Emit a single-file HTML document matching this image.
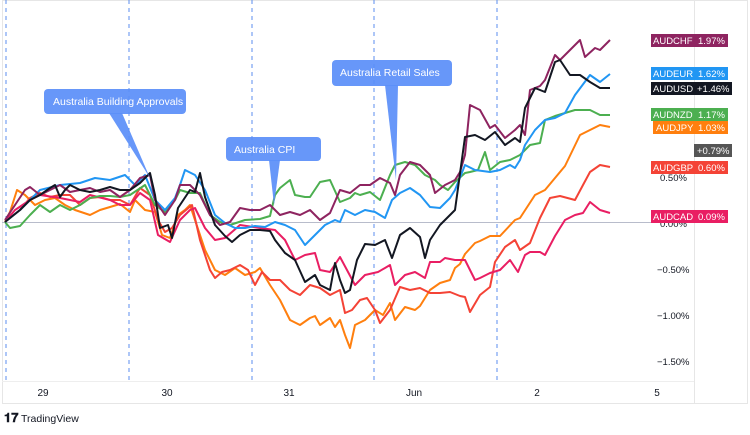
<!DOCTYPE html>
<html><head><meta charset="utf-8"><style>
body{margin:0;background:#fff;width:750px;height:430px;overflow:hidden;font-family:"Liberation Sans",sans-serif}
</style></head><body>
<svg width="750" height="430" xmlns="http://www.w3.org/2000/svg" font-family="Liberation Sans, sans-serif">
<rect x="0" y="0" width="750" height="430" fill="#fff"/>
<rect x="2.5" y="0.5" width="745" height="403" fill="none" stroke="#e6e6e6"/>
<line x1="694.5" y1="0" x2="694.5" y2="404" stroke="#e6e6e6"/>
<line x1="2" y1="381.5" x2="694" y2="381.5" stroke="#eeeeee"/>
<line x1="2" y1="222.5" x2="694" y2="222.5" stroke="#b8bccb"/>
<g stroke="#5b8def" stroke-dasharray="4,4" stroke-width="1">
<line x1="6" y1="0" x2="6" y2="381"/><line x1="129" y1="0" x2="129" y2="381"/><line x1="252" y1="0" x2="252" y2="381"/><line x1="374" y1="0" x2="374" y2="381"/><line x1="497" y1="0" x2="497" y2="381"/>
</g>
<g fill="none" stroke-width="2" stroke-linejoin="round">
<polyline stroke="#ff7f0e" points="5,222 10,212 17,190 25,195 35,205 45,200 55,198 65,205 75,210 90,215 100,210 110,207 120,204 130,212 135,200 145,210 155,212 162,235 170,238 178,215 185,210 190,205 195,220 205,250 215,270 225,275 235,268 245,275 255,272 260,268 270,285 280,300 290,320 300,325 310,318 315,316 320,325 330,318 335,327 340,320 345,335 350,348 355,325 365,320 375,310 383,315 390,303 395,320 405,307 415,310 420,306 430,290 440,283 450,280 455,268 460,264 465,254 475,243 480,241 490,236 500,236 515,220 520,218 535,195 545,190 555,178 565,166 580,135 590,130 600,125 610,127"/>
<polyline stroke="#f44336" points="5,222 20,210 30,198 40,193 50,197 60,195 70,195 80,205 90,198 100,197 110,200 120,200 130,205 140,188 150,195 158,220 165,232 172,228 180,215 192,205 200,240 210,270 215,278 222,272 230,270 240,265 248,270 255,285 262,272 270,280 280,280 290,290 300,295 310,285 320,288 330,295 340,290 345,313 352,310 360,300 367,298 375,310 380,323 390,310 400,287 410,290 420,288 430,293 440,293 450,292 460,296 465,297 470,312 480,295 490,287 495,262 505,247 515,240 520,250 530,243 540,218 550,198 560,196 575,200 583,185 590,172 600,165 610,167"/>
<polyline stroke="#e91e63" points="5,222 15,210 30,200 40,195 60,198 70,200 80,202 90,195 110,200 120,205 130,205 140,193 150,200 158,235 170,242 180,220 190,210 195,208 205,228 215,240 225,238 240,225 260,228 275,230 285,240 295,260 305,255 315,253 320,270 330,272 340,257 355,285 365,275 378,272 385,268 390,265 395,285 405,275 415,272 425,278 430,262 440,262 445,258 455,260 465,260 475,280 480,278 490,273 500,270 510,260 518,272 525,255 530,252 540,252 545,255 555,236 565,220 575,215 583,213 590,202 600,210 610,213"/>
<polyline stroke="#4caf50" points="5,222 10,228 20,226 30,215 40,205 50,212 60,205 70,210 80,205 90,198 100,196 110,196 120,197 130,195 145,185 155,205 165,212 175,200 180,190 190,193 200,193 210,215 220,222 230,225 245,220 260,219 270,216 275,195 280,188 290,180 295,195 305,197 310,197 320,182 330,180 340,202 350,198 355,193 360,195 370,192 380,200 390,175 395,165 405,162 415,165 425,175 435,180 440,185 448,190 455,182 465,173 470,172 478,170 485,152 490,170 500,162 510,160 520,155 530,145 540,143 545,120 555,116 575,110 590,110 600,115 610,115"/>
<polyline stroke="#2196f3" points="5,222 20,210 40,190 60,185 80,183 95,178 110,180 125,175 135,185 145,175 155,200 165,210 175,198 180,185 185,170 195,175 205,190 215,215 225,223 235,228 245,228 255,226 265,227 275,222 285,225 295,230 305,245 315,235 325,225 335,220 340,222 345,210 355,215 365,210 375,212 385,218 392,200 400,193 410,188 420,195 430,207 440,208 450,198 455,190 465,165 475,170 490,172 500,170 510,165 515,168 520,160 525,145 535,130 545,120 555,118 565,113 575,95 590,75 600,82 610,74"/>
<polyline stroke="#8e2460" points="5,220 15,205 25,190 30,187 40,195 50,190 60,185 70,192 80,190 90,188 100,192 110,190 120,197 130,190 140,178 150,175 155,200 165,215 175,200 180,185 190,185 200,195 210,215 220,225 230,222 240,208 250,210 260,210 270,205 280,215 290,212 300,215 310,210 320,220 330,213 340,190 350,193 360,185 370,185 380,178 390,183 395,195 400,175 410,162 420,165 430,175 435,193 445,185 455,180 460,172 465,155 470,105 480,110 490,128 495,125 505,138 515,130 520,125 525,135 530,90 540,86 545,80 555,55 560,60 570,50 580,40 585,57 595,48 600,50 610,40"/>
<polyline stroke="#131722" points="5,222 20,210 30,200 40,195 50,188 55,185 60,197 65,190 70,185 80,190 90,192 100,190 110,187 120,190 130,190 140,183 150,173 155,195 160,228 168,225 172,238 178,208 190,190 195,192 200,173 205,197 215,225 225,236 232,242 240,235 250,230 260,230 270,231 275,240 285,253 295,260 305,282 315,275 320,285 330,290 335,263 340,280 345,293 350,290 357,260 365,244 375,245 385,240 392,258 400,235 410,228 420,237 425,258 430,240 440,225 455,210 465,137 475,135 485,140 495,132 505,145 515,138 520,142 525,108 535,88 545,92 555,62 560,60 570,75 580,75 590,82 600,88 610,88"/>
</g>
<g fill="#5b8ff9" fill-opacity="0.93">
<rect x="44" y="89" width="142" height="25" rx="4"/><polygon points="109,113 122,113 150,178"/>
<rect x="226" y="137" width="95" height="24" rx="4"/><polygon points="269,160 280,160 274,205"/>
<rect x="332" y="60" width="120" height="26" rx="4"/><polygon points="385,85 398,85 396,180"/>
</g>
<g fill="#fff" font-size="10.5">
<text x="53" y="105">Australia Building Approvals</text>
<text x="234" y="153">Australia CPI</text>
<text x="340" y="76">Australia Retail Sales</text>
</g>
<g fill="#131722" font-size="9.5">
<text x="660" y="181">0.50%</text><text x="660" y="227">0.00%</text><text x="657" y="273">−0.50%</text><text x="657" y="319">−1.00%</text><text x="657" y="365">−1.50%</text>
</g>
<g font-size="9.5" fill="#fff">
<rect x="651" y="34" width="43" height="13" fill="#8e2460"/><rect x="694" y="34" width="34" height="13" fill="#8e2460"/><text x="653" y="44">AUDCHF</text><text x="698" y="44">1.97%</text>
<rect x="651" y="67" width="43" height="13" fill="#2196f3"/><rect x="694" y="67" width="34" height="13" fill="#2196f3"/><text x="653" y="77">AUDEUR</text><text x="698" y="77">1.62%</text>
<rect x="651" y="82" width="43" height="13" fill="#131722"/><rect x="694" y="82" width="38" height="13" fill="#131722"/><text x="653" y="92">AUDUSD</text><text x="697" y="92">+1.46%</text>
<rect x="651" y="108" width="43" height="13" fill="#4caf50"/><rect x="694" y="108" width="34" height="13" fill="#4caf50"/><text x="653" y="118">AUDNZD</text><text x="698" y="118">1.17%</text>
<rect x="653" y="121" width="41" height="13" fill="#ff7f0e"/><rect x="694" y="121" width="34" height="13" fill="#ff7f0e"/><text x="656" y="131">AUDJPY</text><text x="698" y="131">1.03%</text>
<rect x="694" y="144" width="38" height="13" fill="#555"/><text x="697" y="154">+0.79%</text>
<rect x="651" y="161" width="43" height="13" fill="#f44336"/><rect x="694" y="161" width="34" height="13" fill="#f44336"/><text x="653" y="171">AUDGBP</text><text x="698" y="171">0.60%</text>
<rect x="651" y="210" width="43" height="13" fill="#e91e63"/><rect x="694" y="210" width="34" height="13" fill="#e91e63"/><text x="653" y="220">AUDCAD</text><text x="698" y="220">0.09%</text>
</g>
<g fill="#131722" font-size="10" text-anchor="middle">
<text x="43" y="396">29</text><text x="167" y="396">30</text><text x="289" y="396">31</text><text x="414" y="396">Jun</text><text x="537" y="396">2</text><text x="657" y="396">5</text>
</g>
<text x="4" y="422" font-size="13" font-weight="bold" fill="#131722">𝟏𝟕</text>
<text x="21" y="422" font-size="10.5" fill="#131722">TradingView</text>
</svg>
</body></html>
